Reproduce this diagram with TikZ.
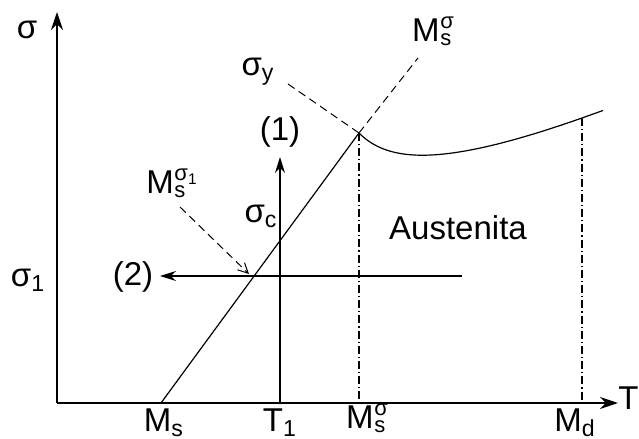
\documentclass[tikz,border=0pt]{standalone}
\usepackage{fontspec}
\setmainfont{Liberation Sans}
\usetikzlibrary{arrows.meta}
\newcommand{\Mlab}[1]{M\kern0.3pt\raisebox{-2pt}{\fontsize{11}{8.4}\selectfont\begin{tabular}[b]{@{}l@{}}#1\\s\end{tabular}}}

\begin{document}
\begin{tikzpicture}[x=0.5pt,y=-0.5pt,font=\fontsize{16.5}{18}\selectfont,
  axis/.style={line width=0.8pt,-{Stealth[length=9pt,width=6pt]}},
  path1/.style={line width=0.6pt,-{Stealth[length=8pt,width=5pt]}},
  curve/.style={line width=0.6pt},
  dashdot/.style={line width=0.6pt,dash pattern=on 4pt off 1.5pt on 0.6pt off 1.5pt},
  guide/.style={line width=0.5pt,dash pattern=on 4pt off 2.5pt}]
\useasboundingbox (0,0) rectangle (639,439);
% axes
\coordinate (O) at (57,403);
\coordinate (ytop) at (57,12);
\coordinate (xend) at (618,403);
\draw[axis] (O) -- (ytop);
\draw[axis] (O) -- (xend);
\node (sig) at (27,30) {σ};
\node[anchor=east,inner sep=0pt] (T) at (639,398) {T};
% points
\coordinate (Ms) at (161,403);
\coordinate (P) at (359,133);
\coordinate (Pend) at (418,58);
\coordinate (Ystart) at (288,84);
\coordinate (Mdtop) at (582,118);
\coordinate (Cend) at (603,110.5);
\coordinate (T1) at (280,403);
\coordinate (T1top) at (280,157);
\coordinate (Sstart) at (462,276);
\coordinate (Send) at (160,276);
\coordinate (A) at (249,274);
\coordinate (Aarr) at (180,207);
\coordinate (Psb) at (359,403);
\coordinate (Mdb) at (582,403);
% lines
\draw[curve] (Ms) -- (P);
\draw[guide] (P) -- (Pend);
\draw[guide] (Ystart) -- (P);
\draw[curve] (P) .. controls (388,162) and (440,168) .. (Mdtop) -- (Cend);
\draw[dashdot] (P) -- (Psb);
\draw[dashdot] (Mdtop) -- (Mdb);
\draw[path1] (T1) -- (T1top);
\draw[path1] (Sstart) -- (Send);
\draw[guide,-{Straight Barb[length=5pt,width=5pt]}] (Aarr) -- (A);
% labels
\node (sy) at (258,72) {σ\textsubscript{y}};
\node (Mtop) at (433,34) {\Mlab{σ}};
\node (p1) at (280,132) {(1)};
\node (sc) at (261,216) {σ\textsubscript{c}};
\node (Ms1) at (172,186) {\Mlab{σ\textsubscript{1}}};
\node (p2) at (133,277) {(2)};
\node (s1) at (28,280) {σ\textsubscript{1}};
\node (aus) at (458,228) {Austenita};
\node (lMs) at (164,423) {M\textsubscript{s}};
\node (lT1) at (280,423) {T\textsubscript{1}};
\node (lPs) at (367,421) {\Mlab{σ}};
\node (lMd) at (575,423) {M\textsubscript{d}};
\end{tikzpicture}
\end{document}
